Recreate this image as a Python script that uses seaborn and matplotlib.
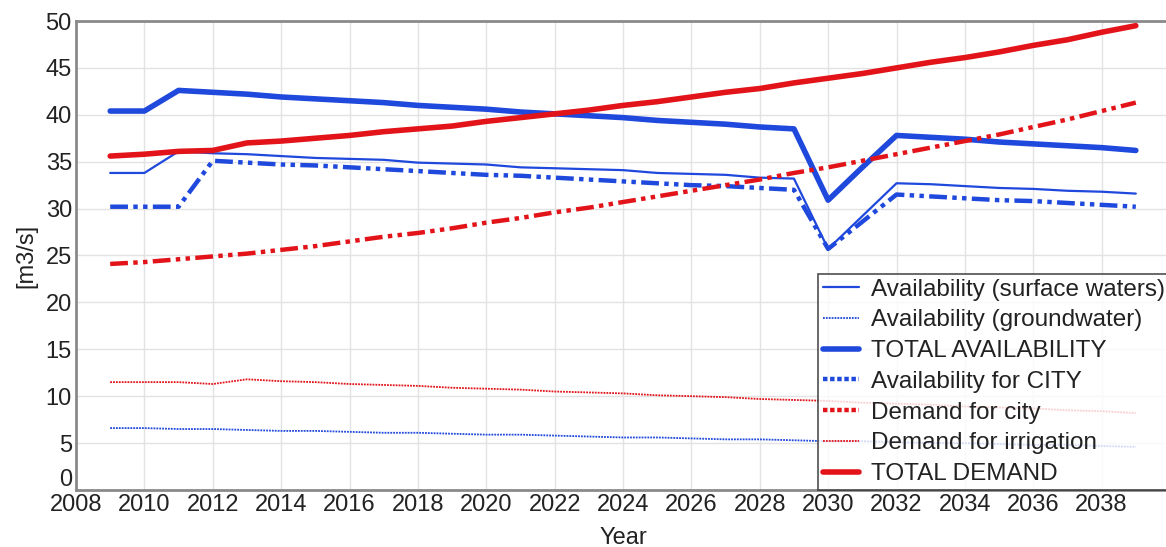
import matplotlib
matplotlib.use("Agg")
import matplotlib.pyplot as plt
import matplotlib.transforms as mtransforms
from matplotlib.lines import Line2D
import pandas as pd
import seaborn as sns

years = list(range(2009, 2040))

surface_waters = [33.8, 33.8, 36.1, 35.9, 35.8, 35.6, 35.4, 35.3, 35.2, 34.9,
                  34.8, 34.7, 34.4, 34.3, 34.2, 34.1, 33.8, 33.7, 33.6, 33.3,
                  33.2, 25.7, 29.2, 32.7, 32.6, 32.4, 32.2, 32.1, 31.9, 31.8,
                  31.6]
groundwater = [6.6, 6.6, 6.5, 6.5, 6.4, 6.3, 6.3, 6.2, 6.1, 6.1,
               6.0, 5.9, 5.9, 5.8, 5.7, 5.6, 5.6, 5.5, 5.4, 5.4,
               5.3, 5.2, 5.2, 5.1, 5.0, 5.0, 4.9, 4.8, 4.8, 4.7,
               4.6]
total_availability = [40.4, 40.4, 42.6, 42.4, 42.2, 41.9, 41.7, 41.5, 41.3, 41.0,
                      40.8, 40.6, 40.3, 40.1, 39.9, 39.7, 39.4, 39.2, 39.0, 38.7,
                      38.5, 30.9, 34.4, 37.8, 37.6, 37.4, 37.1, 36.9, 36.7, 36.5,
                      36.2]
availability_city = [30.2, 30.2, 30.2, 35.1, 34.9, 34.7, 34.6, 34.4, 34.2, 34.0,
                     33.8, 33.6, 33.5, 33.3, 33.1, 32.9, 32.7, 32.5, 32.4, 32.2,
                     32.0, 25.7, 28.6, 31.5, 31.3, 31.1, 30.9, 30.8, 30.6, 30.4,
                     30.2]
demand_city = [24.1, 24.3, 24.6, 24.9, 25.2, 25.6, 26.0, 26.5, 27.0, 27.4,
               27.9, 28.5, 29.0, 29.6, 30.1, 30.7, 31.3, 31.9, 32.5, 33.1,
               33.8, 34.4, 35.1, 35.8, 36.5, 37.2, 37.9, 38.7, 39.5, 40.4,
               41.3]
demand_irrigation = [11.5, 11.5, 11.5, 11.3, 11.8, 11.6, 11.5, 11.3, 11.2, 11.1,
                     10.9, 10.8, 10.7, 10.5, 10.4, 10.3, 10.1, 10.0, 9.9, 9.7,
                     9.6, 9.5, 9.3, 9.2, 9.1, 8.9, 8.8, 8.7, 8.5, 8.4,
                     8.2]
total_demand = [35.6, 35.8, 36.1, 36.2, 37.0, 37.2, 37.5, 37.8, 38.2, 38.5,
                38.8, 39.3, 39.7, 40.1, 40.5, 41.0, 41.4, 41.9, 42.4, 42.8,
                43.4, 43.9, 44.4, 45.0, 45.6, 46.1, 46.7, 47.4, 48.0, 48.8,
                49.5]

labels = ["Availability (surface waters)", "Availability (groundwater)",
          "TOTAL AVAILABILITY", "Availability for CITY", "Demand for city",
          "Demand for irrigation", "TOTAL DEMAND"]

BLUE = "#1f48dc"
RED = "#e2141a"
TEXT = "#222222"

sns.set_theme(style="whitegrid")
plt.rcParams["font.family"] = ["Liberation Sans", "DejaVu Sans"]

fig = plt.figure(figsize=(11.66, 5.47), dpi=100)
ax = fig.add_axes([76 / 1166, 57 / 547, 1094 / 1166, 469 / 547])

df = pd.DataFrame({"Year": years})
dashdotdot = (4, 1.2, 1, 1.2, 1, 1.2)
dotted = (0, (1, 0.6))
series = [
    (surface_waters, BLUE, 1.6, "-"),
    (groundwater, BLUE, 1.3, dotted),
    (total_availability, BLUE, 4.0, "-"),
    (availability_city, BLUE, 3.2, (0, dashdotdot)),
    (demand_city, RED, 3.2, (0, dashdotdot)),
    (demand_irrigation, RED, 1.3, dotted),
    (total_demand, RED, 4.0, "-"),
]
handles = []
for (vals, color, lw, ls), lab in zip(series, labels):
    sns.lineplot(x=df["Year"], y=vals, ax=ax, color=color, linewidth=lw,
                 linestyle=ls)
    hls = ls if ls == "-" else dotted
    handles.append(Line2D([], [], color=color, linewidth=lw, linestyle=hls))

ax.set_xlim(2008, 2040)
ax.set_ylim(0, 50)
ax.set_xticks(range(2008, 2040, 2))
ax.set_yticks(range(0, 51, 5))
ax.tick_params(axis="both", labelsize=17, colors=TEXT, pad=3, length=0)
ax.set_xlabel("Year", fontsize=17, color=TEXT, labelpad=8)
ax.set_ylabel("[m3/s]", fontsize=17, color=TEXT, labelpad=6)
ax.grid(True, color="#e2e2e2", linewidth=1)
for side in ["left", "bottom", "top"]:
    ax.spines[side].set_color("#8a8a8a")
    ax.spines[side].set_linewidth(2)
ax.spines["right"].set_visible(False)

# lift the "0" label so it clears the first year label
fig.canvas.draw()
zero_lbl = ax.get_yticklabels()[0]
zero_lbl.set_transform(zero_lbl.get_transform() +
                       mtransforms.ScaledTranslation(0, 13 / 100, fig.dpi_scale_trans))

leg = ax.legend(handles, labels, loc="lower right", fontsize=17.5,
                frameon=True, fancybox=False, framealpha=0.8,
                edgecolor=TEXT, handlelength=1.5, handletextpad=0.5,
                labelspacing=0.36, borderpad=0.2, borderaxespad=0)
leg.get_frame().set_linewidth(1.2)
for t in leg.get_texts():
    t.set_color(TEXT)

fig.savefig("out.png", dpi=100, facecolor="white")
